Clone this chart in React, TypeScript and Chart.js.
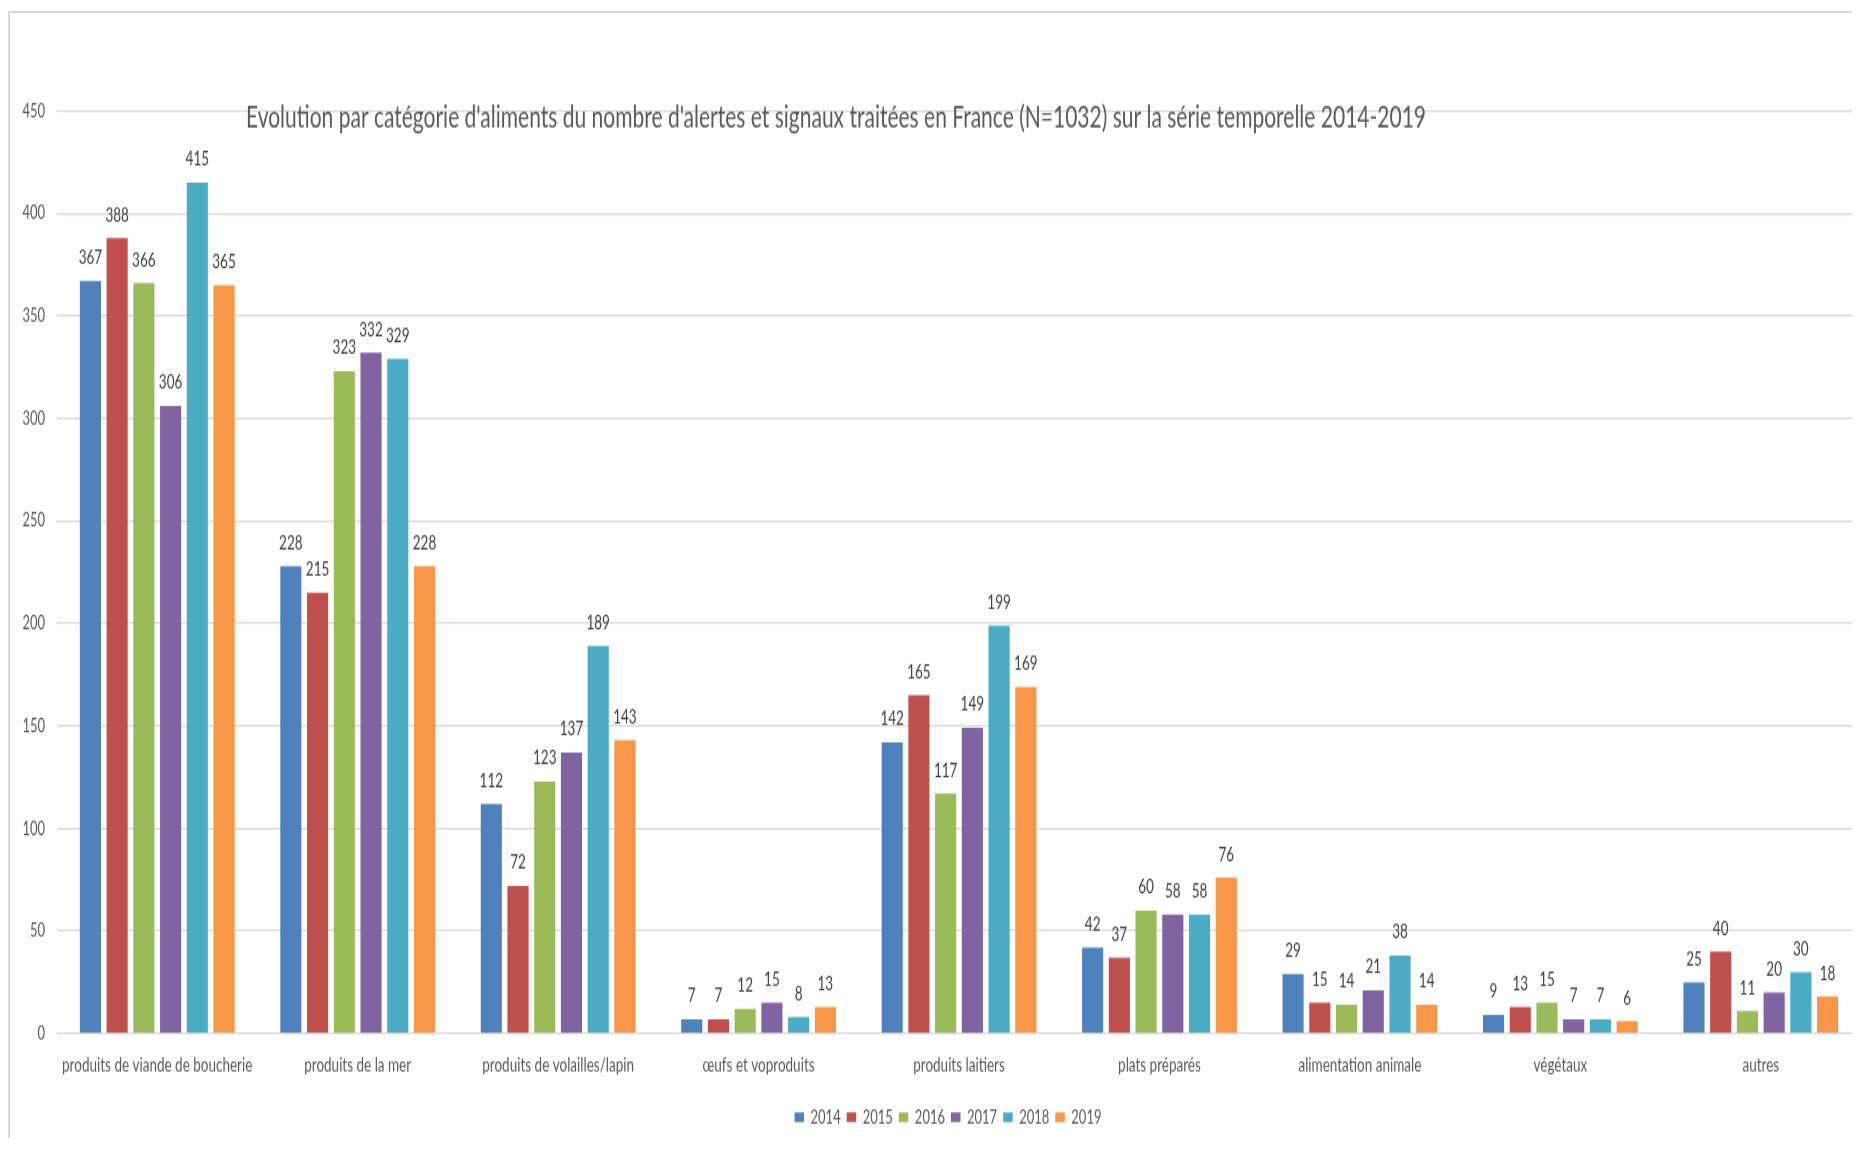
import React, { useEffect, useRef } from "react";
import { Chart, registerables } from "chart.js";

Chart.register(...registerables);

const categories = [
  "produits de viande de boucherie",
  "produits de la mer",
  "produits de volailles/lapin",
  "œufs et voproduits",
  "produits laitiers",
  "plats préparés",
  "alimentation animale",
  "végétaux",
  "autres",
];

const years = ["2014", "2015", "2016", "2017", "2018", "2019"];

const values2014 = [367, 228, 112, 7, 142, 42, 29, 9, 25];
const values2015 = [388, 215, 72, 7, 165, 37, 15, 13, 40];
const values2016 = [366, 323, 123, 12, 117, 60, 14, 15, 11];
const values2017 = [306, 332, 137, 15, 149, 58, 21, 7, 20];
const values2018 = [415, 329, 189, 8, 199, 58, 38, 7, 30];
const values2019 = [365, 228, 143, 13, 169, 76, 14, 6, 18];

const yMax = 450;
const yStep = 50;

const TITLE =
  "Evolution par catégorie d'aliments du nombre d'alertes et signaux traitées en France (N=1032) sur la série temporelle 2014-2019";

const seriesValues = [values2014, values2015, values2016, values2017, values2018, values2019];
const seriesColors = ["#4F81BD", "#C0504D", "#9BBB59", "#8064A2", "#4BACC6", "#F79646"];

const STRETCH = 1.45;
const FONT = "Lato, 'Liberation Sans', sans-serif";

export default function App() {
  const ref = useRef<HTMLCanvasElement>(null);

  useEffect(() => {
    const canvas = ref.current;
    if (!canvas) return;

    const labelPlugin = {
      id: "valueLabels",
      afterDatasetsDraw(chart: any) {
        const ctx = chart.ctx;
        ctx.save();
        ctx.font = `13.5px ${FONT}`;
        ctx.fillStyle = "#404040";
        ctx.textAlign = "center";
        ctx.textBaseline = "middle";
        chart.data.datasets.forEach((ds: any, i: number) => {
          const meta = chart.getDatasetMeta(i);
          meta.data.forEach((bar: any, j: number) => {
            ctx.fillText(String(ds.data[j]), bar.x, bar.y - 16);
          });
        });
        ctx.font = `21px ${FONT}`;
        ctx.fillStyle = "#595959";
        ctx.fillText(TITLE, 826, chart.chartArea.top + 5);
        ctx.restore();
      },
    };

    const chart = new Chart(canvas, {
      type: "bar",
      data: {
        labels: categories,
        datasets: years.map((y, i) => ({
          label: y,
          data: seriesValues[i],
          backgroundColor: seriesColors[i],
          borderWidth: 0,
          categoryPercentage: 0.8,
          barPercentage: 0.79,
        })),
      },
      options: {
        responsive: false,
        animation: false,
        events: [],
        layout: { padding: { top: 67.5, bottom: 0, left: 0, right: 0 } },
        plugins: {
          title: { display: false },
          tooltip: { enabled: false },
          legend: {
            position: "bottom",
            labels: {
              boxWidth: 9.5,
              boxHeight: 6.6,
              padding: 6,
              color: "#595959",
              font: { family: FONT, size: 13 },
            },
          },
        },
        scales: {
          x: {
            grid: { display: false },
            border: { display: false },
            ticks: {
              color: "#595959",
              font: { family: FONT, size: 13.5 },
              padding: 6,
              maxRotation: 0,
              autoSkip: false,
            },
            afterFit: (s: any) => {
              s.height = 45.2;
            },
          },
          y: {
            min: 0,
            max: yMax,
            grid: { color: "#d9d9d9", lineWidth: 1.3, drawTicks: false },
            border: { display: false },
            ticks: {
              stepSize: yStep,
              color: "#595959",
              font: { family: FONT, size: 13 },
              padding: 12,
            },
            afterFit: (s: any) => {
              s.width = 47;
            },
          },
          y2: {
            position: "right",
            display: true,
            grid: { display: false },
            border: { display: false },
            ticks: { display: false },
            afterFit: (s: any) => {
              s.width = 25;
            },
          },
        },
      },
      plugins: [labelPlugin],
    } as any);

    return () => chart.destroy();
  }, []);

  return (
    <div
      style={{
        position: "relative",
        top: 3,
        width: 1852,
        height: 1130,
        overflow: "hidden",
        borderTop: "2px solid #d9d9d9",
        borderLeft: "2px solid #d9d9d9",
        boxSizing: "border-box",
        background: "#fff",
      }}
    >
      <canvas
        ref={ref}
        width={1876}
        height={778}
        style={{ display: "block", transform: `scaleY(${STRETCH})`, transformOrigin: "0 0" }}
      />
    </div>
  );
}
